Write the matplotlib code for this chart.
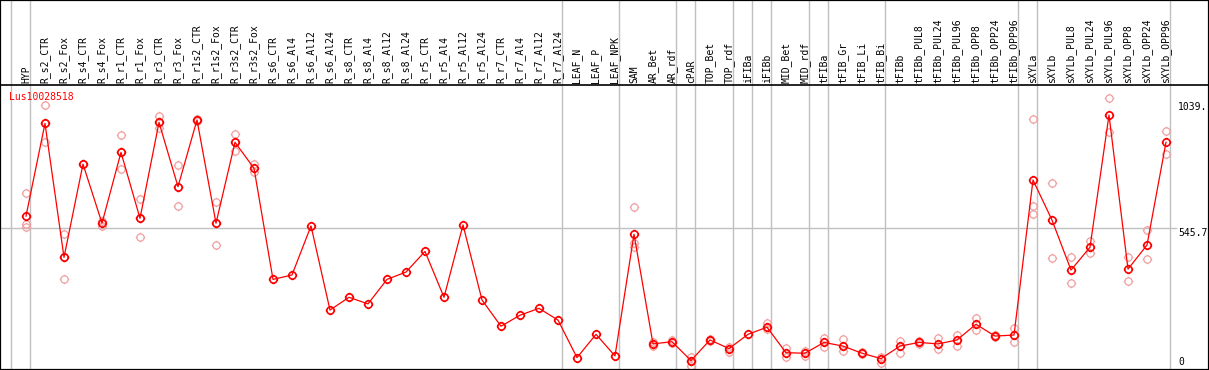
import matplotlib
matplotlib.use("Agg")
import matplotlib.pyplot as plt
from matplotlib.path import Path

gene = "Lus10028518"

samples = ["HYP", "R_s2_CTR", "R_s2_Fox", "R_s4_CTR", "R_s4_Fox", "R_r1_CTR", "R_r1_Fox",
           "R_r3_CTR", "R_r3_Fox", "R_r1s2_CTR", "R_r1s2_Fox", "R_r3s2_CTR", "R_r3s2_Fox",
           "R_s6_CTR", "R_s6_Al4", "R_s6_Al12", "R_s6_Al24", "R_s8_CTR", "R_s8_Al4",
           "R_s8_Al12", "R_s8_Al24", "R_r5_CTR", "R_r5_Al4", "R_r5_Al12", "R_r5_Al24",
           "R_r7_CTR", "R_r7_Al4", "R_r7_Al12", "R_r7_Al24", "LEAF_N", "LEAF_P", "LEAF_NPK",
           "SAM", "AR_Bet", "AR_rdf", "cPAR", "TOP_Bet", "TOP_rdf", "iFIBa", "iFIBb",
           "MID_Bet", "MID_rdf", "tFIBa", "tFIB_Gr", "tFIB_Li", "tFIB_Bi", "tFIBb",
           "tFIBb_PUL8", "tFIBb_PUL24", "tFIBb_PUL96", "tFIBb_OPP8", "tFIBb_OPP24",
           "tFIBb_OPP96", "sXYLa", "sXYLb", "sXYLb_PUL8", "sXYLb_PUL24", "sXYLb_PUL96",
           "sXYLb_OPP8", "sXYLb_OPP24", "sXYLb_OPP96"]

means = [594, 972, 426, 806, 565, 854, 585, 976, 714, 986, 565, 895, 789,
         336, 354, 554, 211, 263, 236, 336, 366, 450, 263, 558, 252,
         145, 190, 218, 170, 17, 112, 24,
         520, 73, 82, 5, 89, 54, 112, 141, 37, 35, 79, 64, 35, 13,
         64, 79, 73, 89, 153, 105, 109,
         741, 578, 374, 467, 1006, 378, 476, 895]

replicates = [[687, 560, 551], [1047, 972, 897], [521, 426, 336], [806], [575, 554],
              [925, 854, 785], [662, 585, 508], [1002, 976, 952], [801, 714, 635],
              [990, 980], [650, 565, 476], [927, 895, 861], [806, 775],
              [], [], [], [], [], [], [], [], [], [], [], [], [], [], [], [], [], [], [],
              [630, 483, 467], [65, 80], [77, 87], [21, 5, -17], [84, 94], [62, 41], [],
              [157, 132], [55, 21], [45, 25], [96, 59], [92, 44], [40, 30], [21, -6],
              [86, 37], [84, 74], [97, 51], [109, 64], [177, 130], [108, 102], [138, 79],
              [989, 635, 601], [728, 422], [426, 323], [494, 442], [1074, 936],
              [429, 329], [537, 419], [940, 847]]

# columns after which a grey separator is drawn (-1 = before the first one)
group_ends = [-1, 0, 28, 31, 34, 35, 37, 38, 39, 41, 42, 45, 52, 53, 60]

ref_values = [1039.0, 545.7, 0]
ref_labels = ["1039.", "545.7", "0"]

W, H = 1209, 370
grey = "#c0c0c0"
mono = "DejaVu Sans Mono"


def px_x(px):
    return (px - 26) / 19.0


def px_y(py):
    return (361.8 - py) * 4.077


# open circle with four little ticks
circle = Path.unit_circle()
t = 1.3
ticks = Path([(0, 1), (0, t), (0, -1), (0, -t), (1, 0), (t, 0), (-1, 0), (-t, 0)],
             [Path.MOVETO, Path.LINETO] * 4)
marker = Path.make_compound_path(circle, ticks)

fig = plt.figure(figsize=(W / 100, H / 100), dpi=100)
ax = fig.add_axes([0, 0, 1, 1])
ax.set_xlim(px_x(0), px_x(W))
ax.set_ylim(px_y(H), px_y(0))
ax.set_xticks([])
ax.set_yticks([])
for sp in ax.spines.values():
    sp.set_color("black")
    sp.set_linewidth(1.6)

for g in group_ends:
    ax.axvline(g + 4 / 19.0, color=grey, lw=1, zorder=1)
ax.plot([px_x(0), px_x(1176)], [545.7, 545.7], color=grey, lw=1, zorder=1)
ax.axhline(px_y(85), color="black", lw=1.2, zorder=3)

xs = list(range(len(samples)))
for i, reps in enumerate(replicates):
    if reps:
        ax.plot([i] * len(reps), reps, linestyle="none", marker=marker, markersize=6.8,
                markerfacecolor="none", markeredgecolor="#f0a0a0", markeredgewidth=0.9,
                zorder=2)

ax.plot(xs, means, color="red", lw=0.9, marker=marker, markersize=6.8,
        markerfacecolor="none", markeredgecolor="red", markeredgewidth=1.2, zorder=4)

for i, s in enumerate(samples):
    ax.text(i, px_y(83), s, rotation=90, ha="center", va="bottom", fontsize=7,
            family=mono, color="black")

ax.text(px_x(9), px_y(97), gene, ha="left", va="center", fontsize=7, family=mono,
        color="red")

for v, lab, va in zip(ref_values, ref_labels, ["center", "top", "center"]):
    ax.text(px_x(1178), v, lab, ha="left", va=va, fontsize=7, family=mono, color="black")

fig.savefig("out.png", dpi=100)
